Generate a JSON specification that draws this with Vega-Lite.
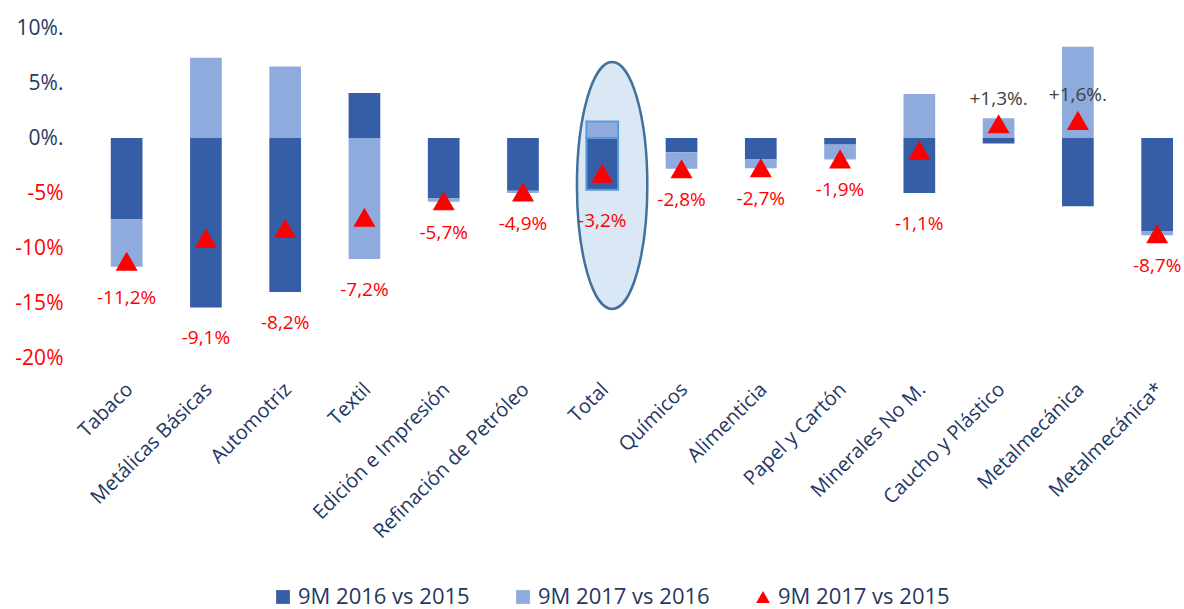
{
  "$schema": "https://vega.github.io/schema/vega-lite/v6.json",
  "width": 1086,
  "height": 330,
  "autosize": {"type": "none"},
  "padding": {"left": 87, "top": 28, "right": 11, "bottom": 251},
  "background": "white",
  "config": {
    "view": {"stroke": null},
    "font": "Open Sans",
    "legend": {"symbolSize": 190, "labelFontSize": 22, "labelColor": "#1F3864", "padding": 0, "labelLimit": 400}
  },
  "datasets": {
    "sectores": [
      {"cat": "Tabaco", "9M 2016 vs 2015": -0.074, "9M 2017 vs 2016": -0.043, "9M 2017 vs 2015": -0.112, "lab": "-11,2%"},
      {"cat": "Metálicas Básicas", "9M 2016 vs 2015": -0.154, "9M 2017 vs 2016": 0.073, "9M 2017 vs 2015": -0.091, "lab": "-9,1%"},
      {"cat": "Automotriz", "9M 2016 vs 2015": -0.140, "9M 2017 vs 2016": 0.065, "9M 2017 vs 2015": -0.082, "lab": "-8,2%"},
      {"cat": "Textil", "9M 2016 vs 2015": 0.041, "9M 2017 vs 2016": -0.110, "9M 2017 vs 2015": -0.072, "lab": "-7,2%"},
      {"cat": "Edición e Impresión", "9M 2016 vs 2015": -0.055, "9M 2017 vs 2016": -0.003, "9M 2017 vs 2015": -0.057, "lab": "-5,7%"},
      {"cat": "Refinación de Petróleo", "9M 2016 vs 2015": -0.048, "9M 2017 vs 2016": -0.002, "9M 2017 vs 2015": -0.049, "lab": "-4,9%"},
      {"cat": "Total", "9M 2016 vs 2015": -0.047, "9M 2017 vs 2016": 0.015, "9M 2017 vs 2015": -0.032, "lab": "-3,2%"},
      {"cat": "Químicos", "9M 2016 vs 2015": -0.013, "9M 2017 vs 2016": -0.015, "9M 2017 vs 2015": -0.028, "lab": "-2,8%"},
      {"cat": "Alimenticia", "9M 2016 vs 2015": -0.0195, "9M 2017 vs 2016": -0.008, "9M 2017 vs 2015": -0.027, "lab": "-2,7%"},
      {"cat": "Papel y Cartón", "9M 2016 vs 2015": -0.006, "9M 2017 vs 2016": -0.0135, "9M 2017 vs 2015": -0.019, "lab": "-1,9%"},
      {"cat": "Minerales No M.", "9M 2016 vs 2015": -0.050, "9M 2017 vs 2016": 0.040, "9M 2017 vs 2015": -0.011, "lab": "-1,1%"},
      {"cat": "Caucho y Plástico", "9M 2016 vs 2015": -0.005, "9M 2017 vs 2016": 0.018, "9M 2017 vs 2015": 0.013, "lab": "+1,3%."},
      {"cat": "Metalmecánica", "9M 2016 vs 2015": -0.062, "9M 2017 vs 2016": 0.083, "9M 2017 vs 2015": 0.016, "lab": "+1,6%."},
      {"cat": "Metalmecánica*", "9M 2016 vs 2015": -0.085, "9M 2017 vs 2016": -0.0035, "9M 2017 vs 2015": -0.087, "lab": "-8,7%"}
    ],
    "resalte": [{"cat": "Total", "centro": -0.0432}]
  },
  "layer": [
    {
      "data": {"name": "resalte"},
      "mark": {"type": "point", "filled": true, "fill": "#DAE7F5", "fillOpacity": 1, "stroke": "#41719C", "strokeWidth": 2.5, "opacity": 1,
        "shape": "M0.08,-1 A0.285,1 0 1,1 0.08,1 A0.285,1 0 1,1 0.08,-1 Z", "size": 61000},
      "encoding": {
        "x": {"field": "cat", "type": "nominal", "scale": {"domain": ["Tabaco", "Metálicas Básicas", "Automotriz", "Textil", "Edición e Impresión", "Refinación de Petróleo", "Total", "Químicos", "Alimenticia", "Papel y Cartón", "Minerales No M.", "Caucho y Plástico", "Metalmecánica", "Metalmecánica*"], "paddingInner": 0.6, "paddingOuter": 0.15, "align": 1},
          "axis": {"title": null, "labelAngle": -45, "labelAlign": "right", "labelBaseline": "top", "labelPadding": 21, "labelOffset": -4, "labelFontSize": 20, "labelLimit": 400, "labelColor": "#1F3864", "domain": false, "ticks": false}},
        "y": {"field": "centro", "type": "quantitative", "scale": {"domain": [-0.2, 0.1], "nice": false},
          "axis": {"title": null, "values": [-0.2, -0.15, -0.1, -0.05, 0, 0.05, 0.1], "grid": false, "domain": false, "ticks": false, "labelPadding": 24, "labelFontSize": 21,
            "labelExpr": "datum.value < 0 ? '-' + format(-datum.value, '.0%') : format(datum.value, '.0%') + '.'",
            "labelColor": {"condition": {"test": "datum.value < 0", "value": "#FF0000"}, "value": "#1F3864"}}}
      }
    },
    {
      "mark": {"type": "rule", "color": "#D9D9D9", "strokeWidth": 2},
      "encoding": {"y": {"datum": 0, "type": "quantitative"}}
    },
    {
      "data": {"name": "sectores"},
      "transform": [{"fold": ["9M 2016 vs 2015", "9M 2017 vs 2016"], "as": ["key", "value"]}],
      "mark": {"type": "bar", "strokeWidth": 2},
      "encoding": {
        "x": {"field": "cat", "type": "nominal"},
        "y": {"field": "value", "type": "quantitative", "stack": "zero"},
        "order": {"field": "key", "sort": "ascending"},
        "color": {"field": "key", "type": "nominal",
          "scale": {"domain": ["9M 2016 vs 2015", "9M 2017 vs 2016", "9M 2017 vs 2015"], "range": ["#365EA6", "#8FAADC", "#FF0000"]},
          "legend": {"title": null, "orient": "none", "legendX": 185, "legendY": 558, "direction": "horizontal", "columns": 3, "columnPadding": 42, "labelOffset": 4}},
        "stroke": {"condition": {"test": "datum.cat === 'Total'", "value": "#5B9BD5"}, "value": null}
      }
    },
    {
      "data": {"name": "sectores"},
      "transform": [{"fold": ["9M 2017 vs 2015"], "as": ["key", "value"]}],
      "mark": {"type": "point", "filled": true, "opacity": 1, "size": 484},
      "encoding": {
        "x": {"field": "cat", "type": "nominal"},
        "y": {"field": "value", "type": "quantitative"},
        "color": {"field": "key", "type": "nominal"},
        "shape": {"field": "key", "type": "nominal",
          "scale": {"domain": ["9M 2016 vs 2015", "9M 2017 vs 2016", "9M 2017 vs 2015"], "range": ["square", "square", "triangle-up"]},
          "legend": {"title": null, "orient": "none", "legendX": 185, "legendY": 558, "direction": "horizontal", "columns": 3, "columnPadding": 42, "labelOffset": 4}}
      }
    },
    {
      "data": {"name": "sectores"},
      "transform": [
        {"filter": "datum['9M 2017 vs 2015'] < 0"},
        {"fold": ["9M 2016 vs 2015", "9M 2017 vs 2016"], "as": ["key", "value"]},
        {"stack": "value", "groupby": ["cat"], "sort": [{"field": "key"}], "as": ["v0", "v1"]},
        {"fold": ["v0", "v1", "9M 2017 vs 2015"], "as": ["k2", "yy"]},
        {"aggregate": [{"op": "min", "field": "yy", "as": "ymin"}], "groupby": ["cat", "lab"]}
      ],
      "mark": {"type": "text", "color": "#FF0000", "fontSize": 19, "baseline": "middle", "dy": 31},
      "encoding": {
        "x": {"field": "cat", "type": "nominal"},
        "y": {"field": "ymin", "type": "quantitative"},
        "text": {"field": "lab"}
      }
    },
    {
      "data": {"name": "sectores"},
      "transform": [{"filter": "datum['9M 2017 vs 2015'] > 0"}],
      "mark": {"type": "text", "color": "#404040", "fontSize": 19, "baseline": "middle", "dy": -25},
      "encoding": {
        "x": {"field": "cat", "type": "nominal"},
        "y": {"field": "9M 2017 vs 2015", "type": "quantitative"},
        "text": {"field": "lab"}
      }
    }
  ]
}
